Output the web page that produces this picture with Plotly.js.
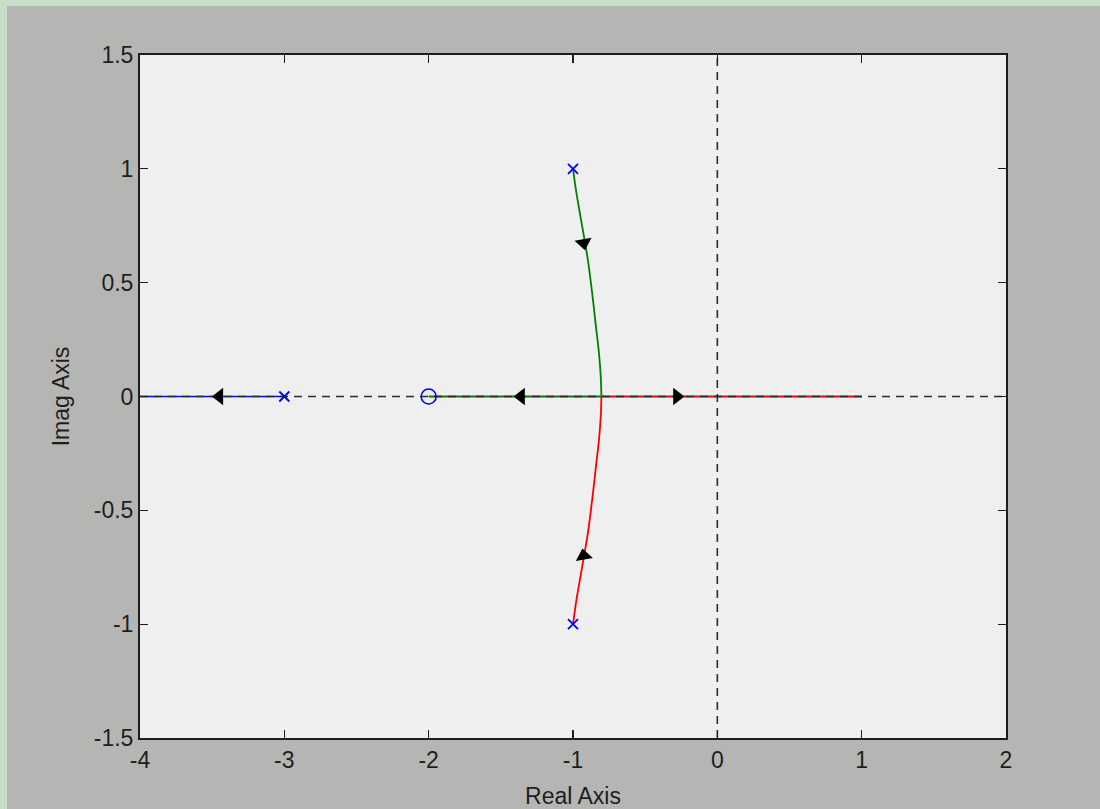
<!DOCTYPE html>
<html>
<head>
<meta charset="utf-8">
<script src="https://cdn.plot.ly/plotly-3.0.1.min.js"></script>
<style>
  html, body { margin: 0; padding: 0; background: #c9dec9; width: 1100px; height: 809px; overflow: hidden; }
  #chart { position: absolute; left: 7px; top: 6px; width: 1093px; height: 803px; }
</style>
</head>
<body>
<div id="chart"></div>
<script>
// ---- data ----
var xTickVals = [-4, -3, -2, -1, 0, 1, 2];
var xTickText = ['-4', '-3', '-2', '-1', '0', '1', '2'];
var yTickVals = [-1.5, -1, -0.5, 0, 0.5, 1, 1.5];
var yTickText = ['-1.5', '-1', '-0.5', '0', '0.5', '1', '1.5'];

// open-loop poles and zero
var poleRe = [-3, -1, -1];
var poleIm = [0, 1, -1];
var zeroRe = [-2];
var zeroIm = [0];

// branch from pole -3 (blue), along real axis to the left
var blueRe = [-3, -4];
var blueIm = [0, 0];

// branch from -1+j (green): complex part down to breakaway ...
var greenCurveRe = [-1.0, -0.976, -0.936, -0.897, -0.867, -0.841, -0.820, -0.808, -0.803];
var greenCurveIm = [1.0, 0.893, 0.746, 0.600, 0.453, 0.307, 0.190, 0.090, 0.0];
// ... then along the real axis to the zero at -2
var greenAxisRe = [-0.803, -2.0];
var greenAxisIm = [0, 0];

// branch from -1-j (red): complex part up to breakaway ...
var redCurveRe = [-1.0, -0.976, -0.936, -0.897, -0.867, -0.841, -0.820, -0.808, -0.803];
var redCurveIm = [-1.0, -0.893, -0.746, -0.600, -0.453, -0.307, -0.190, -0.090, 0.0];
// ... then along the real axis to the right
var redAxisRe = [-0.803, 1.0];
var redAxisIm = [0, 0];

// direction arrows on the branches
var arrowRe = [-3.45, -1.36, -0.28, -0.926, -0.926];
var arrowIm = [0, 0, 0, 0.675, -0.70];
var arrowDir = [270, 270, 90, 170, 350];

// axis extent
var xRange = [-4, 2];
var yRange = [-1.5, 1.5];

var axisColor = '#1e1e1e';
var fontFam = '"Liberation Sans", Arial, sans-serif';

function line(x, y, color, w, shape) {
  return { x: x, y: y, mode: 'lines', line: { color: color, width: w, shape: shape || 'linear' }, hoverinfo: 'skip' };
}

var traces = [
  line(blueRe, blueIm, '#0000ff', 1.6),
  line(greenCurveRe, greenCurveIm, '#008000', 1.8, 'spline'),
  line(greenAxisRe, greenAxisIm, '#008000', 1.8),
  line(redCurveRe, redCurveIm, '#ff0000', 1.8, 'spline'),
  line(redAxisRe, redAxisIm, '#ff0000', 1.8),
  // dashed reference axes
  { x: xRange, y: [0, 0], mode: 'lines', line: { color: '#2a2a2a', width: 1.6, dash: '8px,6px' }, hoverinfo: 'skip' },
  { x: [0, 0], y: yRange, mode: 'lines', line: { color: '#2a2a2a', width: 1.6, dash: '8px,6px' }, hoverinfo: 'skip' },
  // arrows
  { x: arrowRe, y: arrowIm, mode: 'markers',
    marker: { symbol: 'triangle-up', size: 15, color: '#000000', angle: arrowDir, line: { width: 0 } },
    hoverinfo: 'skip' },
  // poles
  { x: poleRe, y: poleIm, mode: 'markers',
    marker: { symbol: 'x-thin-open', size: 10, color: '#0000ff', line: { color: '#0000ff', width: 1.8 } },
    hoverinfo: 'skip' },
  // zero
  { x: zeroRe, y: zeroIm, mode: 'markers',
    marker: { symbol: 'circle-open', size: 15, color: '#0000ff', line: { color: '#0000ff', width: 1.6 } },
    hoverinfo: 'skip' }
];

var axisCommon = {
  showgrid: false, zeroline: false, showline: true, linecolor: axisColor, linewidth: 2,
  mirror: 'ticks', ticks: 'inside', ticklen: 8, tickwidth: 1.3, tickcolor: axisColor,
  tickfont: { family: fontFam, size: 23, color: '#1e1e1e' }, fixedrange: true
};

var layout = {
  width: 1093, height: 803,
  paper_bgcolor: '#b5b6b4', plot_bgcolor: '#efefef',
  showlegend: false,
  margin: { l: 133, r: 93.5, t: 49, b: 71, pad: 0 },
  xaxis: Object.assign({}, axisCommon, {
    range: xRange, tickmode: 'array', tickvals: xTickVals, ticktext: xTickText,
    title: { text: 'Real Axis', font: { family: fontFam, size: 23, color: '#1e1e1e' }, standoff: 16 }
  }),
  yaxis: Object.assign({}, axisCommon, {
    range: yRange, tickmode: 'array', tickvals: yTickVals, ticktext: yTickText,
    title: { text: 'Imag Axis', font: { family: fontFam, size: 23, color: '#1e1e1e' }, standoff: 18 }
  })
};

Plotly.newPlot('chart', traces, layout, { staticPlot: true, displayModeBar: false });
</script>
</body>
</html>
